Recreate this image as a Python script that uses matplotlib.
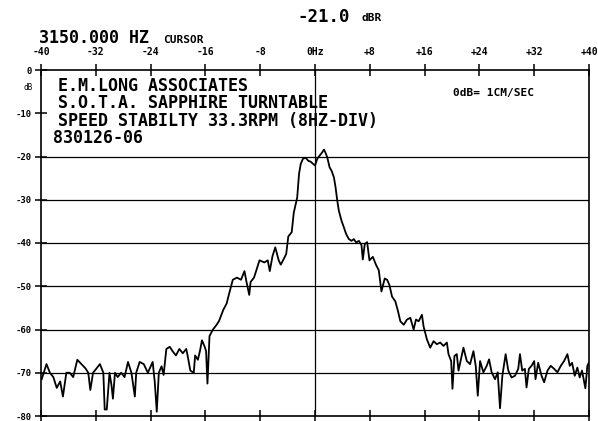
"""Speed stability spectrum of a turntable, redrawn from a plotter chart."""

import matplotlib
matplotlib.use("Agg")
import matplotlib.pyplot as plt
import numpy as np


# trace: offset from 3150 Hz (Hz) and level (dB)
FREQ = [
    -39.9, -39.2, -38.7, -38.2, -37.7, -37.2, -36.8, -36.3, -35.8, -35.3,
    -34.7, -34.1, -33.5, -33.1, -32.8, -32.4, -31.9, -31.4, -30.9, -30.7,
    -30.4, -30.0, -29.7, -29.5, -29.2, -28.8, -28.3, -27.8, -27.3, -26.8,
    -26.3, -26.1, -25.6, -25.0, -24.4, -23.7, -23.4, -23.1, -22.8, -22.4,
    -22.1, -21.7, -21.2, -20.8, -20.3, -19.8, -19.3, -18.8, -18.6, -18.2,
    -17.7, -17.5, -17.1, -16.8, -16.5, -16.1, -15.9, -15.7, -15.4, -14.9,
    -14.4, -14.0, -13.4, -12.9, -12.5, -12.0, -11.4, -10.8, -10.3, -10.0,
    -9.6, -9.4, -8.9, -8.1, -7.4, -6.9, -6.6, -6.2, -5.8, -5.3,
    -5.0, -4.5, -4.2, -3.9, -3.4, -3.1, -2.6, -2.33, -2.08, -1.75,
    -1.36, -0.97, -0.63, -0.29, 0.0, 0.34, 0.68, 1.07, 1.31, 1.55,
    1.79, 2.13, 2.42, 2.76, 3.0, 3.25, 3.49, 3.88, 4.22, 4.56,
    4.95, 5.33, 5.67, 6.01, 6.4, 6.79, 6.98, 7.27, 7.61, 7.95,
    8.44, 8.92, 9.31, 9.70, 10.18, 10.52, 10.86, 11.25, 11.73, 12.12,
    12.46, 12.95, 13.43, 13.92, 14.4, 14.74, 15.13, 15.61, 15.85, 16.34,
    16.82, 17.31, 17.79, 18.28, 18.76, 19.25, 19.49, 19.88, 20.07, 20.36,
    20.7, 20.95, 21.19, 21.67, 22.16, 22.64, 23.13, 23.47, 23.76, 24.1,
    24.58, 25.07, 25.41, 25.79, 26.28, 26.67, 27.01, 27.35, 27.83, 28.22,
    28.7, 29.19, 29.67, 29.92, 30.25, 30.64, 30.88, 31.22, 31.61, 32.0,
    32.19, 32.58, 33.07, 33.45, 33.94, 34.42, 34.91, 35.39, 35.88, 36.36,
    36.85, 37.19, 37.53, 37.92, 38.3, 38.64, 38.98, 39.47, 39.76, 40.0,
]
LEVEL = [
    -71.5, -68.0, -70.0, -71.0, -73.5, -72.0, -75.5, -70.0, -70.0, -71.0,
    -67.0, -68.0, -69.0, -70.0, -74.0, -70.0, -69.0, -68.0, -70.0, -78.5,
    -78.5, -70.0, -73.0, -76.0, -70.0, -71.0, -70.0, -71.0, -67.5, -70.0,
    -75.5, -70.0, -67.5, -68.0, -70.0, -67.5, -72.0, -79.0, -70.0, -68.5,
    -70.5, -64.5, -64.0, -65.0, -66.0, -64.5, -65.5, -64.5, -66.0, -69.5,
    -70.0, -66.0, -67.0, -65.0, -62.5, -64.0, -65.0, -72.5, -61.5, -60.0,
    -59.0, -58.0, -55.5, -54.0, -51.5, -48.5, -48.0, -48.5, -46.5, -49.0,
    -52.0, -49.0, -48.0, -44.0, -44.5, -44.0, -46.5, -43.0, -41.0, -44.0,
    -45.0, -43.5, -42.5, -38.5, -37.5, -33.0, -29.5, -24.0, -21.7, -20.5,
    -20.3, -21.0, -21.2, -21.7, -22.1, -20.5, -19.8, -19.0, -18.4, -19.2,
    -20.2, -22.5, -23.3, -24.8, -27.1, -30.2, -32.6, -34.9, -36.4, -38.0,
    -39.1, -39.5, -39.1, -39.9, -39.5, -40.5, -43.8, -40.2, -39.8, -44.0,
    -43.2, -45.1, -46.3, -51.2, -48.2, -48.5, -49.7, -52.4, -53.5, -55.8,
    -58.1, -58.9, -57.7, -57.3, -60.0, -57.7, -58.1, -56.6, -59.3, -62.3,
    -64.2, -62.7, -63.4, -63.0, -63.8, -63.0, -65.7, -67.3, -73.7, -66.1,
    -65.7, -69.5, -67.7, -64.2, -67.3, -68.0, -65.0, -68.5, -75.3, -67.3,
    -69.9, -68.4, -66.9, -69.9, -71.5, -69.9, -78.2, -70.7, -65.7, -69.5,
    -71.1, -70.7, -69.1, -65.7, -69.5, -69.1, -73.4, -69.1, -68.4, -67.3,
    -71.5, -67.7, -70.7, -72.2, -69.5, -68.4, -69.1, -69.9, -68.4, -67.3,
    -65.7, -68.4, -67.7, -70.7, -68.8, -71.1, -69.5, -73.6, -68.4, -67.6,
]

X_TICKS = [-40, -32, -24, -16, -8, 0, 8, 16, 24, 32, 40]
X_LABELS = ["-40", "-32", "-24", "-16", "-8", "0Hz", "+8", "+16", "+24", "+32", "+40"]
Y_TICKS = [0, -10, -20, -30, -40, -50, -60, -70, -80]
Y_LABELS = ["0", "-10", "-20", "-30", "-40", "-50", "-60", "-70", "-80"]
GRID_LEVELS = [-20, -30, -40, -50, -60, -70]

HEADER = [
    "E.M.LONG ASSOCIATES",
    "S.O.T.A. SAPPHIRE TURNTABLE",
    "SPEED STABILTY 33.3RPM (8HZ-DIV)",
]
RUN_ID = "830126-06"

W, H = 598, 421
MONO = "DejaVu Sans Mono"


def fx(px):
    return px / W


def fy(py):
    return 1 - py / H


def main() -> None:
    fig = plt.figure(figsize=(W / 100, H / 100), dpi=100)
    ax = fig.add_axes([fx(41), fy(416), (589 - 41) / W, (416 - 70) / H])

    for lvl in GRID_LEVELS:
        ax.axhline(lvl, color="black", lw=0.9)
    ax.axvline(0, color="black", lw=0.9)

    ax.plot(FREQ, LEVEL, color="black", lw=1.3)

    ax.set_xlim(-40, 40)
    ax.set_ylim(-80, 0)
    for side in ax.spines.values():
        side.set_linewidth(1.2)

    ax.set_xticks(X_TICKS)
    ax.set_xticklabels(X_LABELS, fontsize=7, family=MONO, fontweight="bold")
    ax.tick_params(axis="x", direction="inout", length=9, width=1.1,
                   top=True, bottom=True, labeltop=True, labelbottom=False, pad=5)
    ax.set_yticks(Y_TICKS)
    ax.set_yticklabels(Y_LABELS, fontsize=6.5, family=MONO, fontweight="bold")
    ax.tick_params(axis="y", direction="inout", length=9, width=1.1, pad=2)

    fig.text(fx(28), fy(88), "dB", fontsize=5.5, family=MONO, ha="center", va="center")

    # plotter header text
    fig.text(fx(39), fy(38), "3150.000 HZ", fontsize=12, family=MONO,
             fontweight="bold", ha="left", va="center")
    fig.text(fx(163), fy(40), "CURSOR", fontsize=8, family=MONO,
             fontweight="bold", ha="left", va="center")
    fig.text(fx(298), fy(17), "-21.0", fontsize=12.5, family=MONO,
             fontweight="bold", ha="left", va="center")
    fig.text(fx(362), fy(18), "dBR", fontsize=8, family=MONO,
             fontweight="bold", ha="left", va="center")

    for i, line in enumerate(HEADER):
        fig.text(fx(58), fy(86 + 17.3 * i), line, fontsize=12, family=MONO,
                 fontweight="bold", ha="left", va="center")
    fig.text(fx(53), fy(138), RUN_ID, fontsize=12, family=MONO,
             fontweight="bold", ha="left", va="center")
    fig.text(fx(453), fy(93), "0dB= 1CM/SEC", fontsize=8, family=MONO,
             fontweight="bold", ha="left", va="center")

    fig.savefig("out.png", dpi=100)
    plt.close(fig)


if __name__ == "__main__":
    main()
